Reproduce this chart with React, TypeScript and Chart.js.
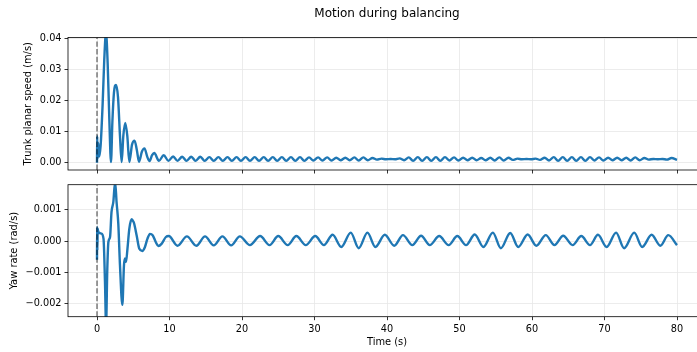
import { useEffect, useRef } from "react";
import { Chart, registerables } from "chart.js";

Chart.register(...registerables);
Chart.defaults.font.family = "'DejaVu Sans', sans-serif";

// ---------- data ----------
const X_TICKS = [0, 10, 20, 30, 40, 50, 60, 70, 80];
const X_TICK_LABELS = ["0", "10", "20", "30", "40", "50", "60", "70", "80"];
const SPEED_TICKS = [0, 0.01, 0.02, 0.03, 0.04];
const SPEED_TICK_LABELS = ["0.00", "0.01", "0.02", "0.03", "0.04"];
const YAW_TICKS = [-0.002, -0.001, 0, 0.001];
const YAW_TICK_LABELS = ["\u22120.002", "\u22120.001", "0.000", "0.001"];
const X_RANGE = [-4, 84];
const SPEED_RANGE = [-0.00235, 0.04026];
const YAW_RANGE = [-0.00243, 0.00181];
const EVENT_TIME = 0;

const TITLE = "Motion during balancing";
const SPEED_LABEL = "Trunk planar speed (m/s)";
const YAW_LABEL = "Yaw rate (rad/s)";
const X_LABEL = "Time (s)";

// [time (s), trunk planar speed (m/s)]
const speedSeries: [number, number][] = [
  [0.0, 0.0], [0.03, 0.0085], [0.08, 0.0012], [0.16, 0.0064], [0.3, 0.002], [0.5, 0.0055],
  [0.78, 0.019], [1.0, 0.033], [1.24, 0.0418], [1.47, 0.032], [1.7, 0.014], [1.93, 0.0002],
  [2.12, 0.013], [2.34, 0.0225], [2.62, 0.025], [2.9, 0.021], [3.17, 0.0086], [3.4, 0.0002],
  [3.63, 0.0086], [3.9, 0.0128], [4.18, 0.0086], [4.46, 0.0002], [4.83, 0.0058], [5.18, 0.0071],
  [5.5, 0.004], [5.8, 0.0003], [6.2, 0.0036], [6.55, 0.0046], [6.95, 0.0018], [7.25, 0.0005],
  [7.6, 0.0024], [7.9, 0.0031], [8.55, 0.0006], [9.2, 0.0024], [9.85, 0.0006], [10.5, 0.002],
  [11.1, 0.0006], [11.75, 0.0019], [12.35, 0.0006], [13.0, 0.0019], [13.6, 0.0006], [14.25, 0.0019],
  [14.85, 0.0006], [15.5, 0.0018], [16.1, 0.0006], [16.75, 0.0018], [17.35, 0.0006], [18.0, 0.0018],
  [18.6, 0.0006], [19.25, 0.0018], [19.85, 0.0006], [20.5, 0.0018], [21.1, 0.0006], [21.75, 0.0018],
  [22.35, 0.0006], [23.0, 0.0018], [23.6, 0.0006], [24.25, 0.0018], [24.85, 0.0006], [25.5, 0.0018],
  [26.1, 0.0006], [26.75, 0.0018], [27.35, 0.0006], [28.0, 0.0018], [28.6, 0.0006], [29.25, 0.0017],
  [29.85, 0.0007], [30.5, 0.0017], [31.1, 0.0007], [31.75, 0.0017], [32.35, 0.0007], [33.0, 0.0016],
  [33.6, 0.0008], [34.25, 0.0016], [34.85, 0.0008], [35.5, 0.0017], [36.1, 0.0007], [36.75, 0.0017],
  [37.35, 0.0008], [38.0, 0.0015], [38.6, 0.001], [39.25, 0.0013], [39.85, 0.0011], [40.5, 0.0012],
  [41.1, 0.0011], [41.75, 0.0014], [42.35, 0.0008], [43.0, 0.0017], [43.6, 0.0006], [44.25, 0.0018],
  [44.85, 0.0006], [45.5, 0.0018], [46.1, 0.0006], [46.75, 0.0018], [47.35, 0.0006], [48.0, 0.0018],
  [48.6, 0.0007], [49.25, 0.0017], [49.85, 0.0007], [50.5, 0.0016], [51.1, 0.0008], [51.75, 0.0016],
  [52.35, 0.0008], [53.0, 0.0015], [53.6, 0.0008], [54.25, 0.0016], [54.85, 0.0007], [55.5, 0.0017],
  [56.1, 0.0007], [56.75, 0.0016], [57.35, 0.0009], [58.0, 0.0013], [58.6, 0.0011], [59.25, 0.0012],
  [59.85, 0.0011], [60.5, 0.0013], [61.1, 0.0009], [61.75, 0.0016], [62.35, 0.0007], [63.0, 0.0018],
  [63.6, 0.0006], [64.25, 0.0018], [64.85, 0.0006], [65.5, 0.0018], [66.1, 0.0006], [66.75, 0.0018],
  [67.35, 0.0006], [68.0, 0.0018], [68.6, 0.0007], [69.25, 0.0017], [69.85, 0.0007], [70.5, 0.0016],
  [71.1, 0.0008], [71.75, 0.0016], [72.35, 0.0008], [73.0, 0.0016], [73.6, 0.0007], [74.25, 0.0017],
  [74.85, 0.0008], [75.5, 0.0015], [76.1, 0.001], [76.75, 0.0012], [77.35, 0.0011], [78.0, 0.0012],
  [78.6, 0.001], [79.25, 0.0015], [80.0, 0.0009],
];

// [time (s), yaw rate (rad/s)]
const yawSeries: [number, number][] = [
  [0.0, -0.0006], [0.02, 0.00045], [0.05, -0.0003], [0.1, 0.0004], [0.18, 0.00029], [0.6, 0.00024],
  [0.9, 0.00007], [1.1, -0.0013], [1.25, -0.0027], [1.42, -0.0009], [1.57, -0.00003], [1.8, 0.00013],
  [2.0, 0.00093], [2.25, 0.00125], [2.5, 0.0019], [2.7, 0.00125], [2.94, 0.00055], [3.17, -0.00078],
  [3.5, -0.00205], [3.72, -0.00078], [3.86, -0.00056], [4.0, -0.00067], [4.2, -0.00025], [4.46, 0.0004],
  [4.78, 0.0007], [4.95, 0.00065], [5.1, 0.00058], [5.47, 0.00018], [5.84, -0.00025], [6.25, -0.00032],
  [6.6, -0.0002], [6.95, 0.00007], [7.3, 0.00023], [7.7, 0.00018], [8.1, -0.00003], [8.46, -0.00016],
  [8.9, -0.00009], [9.5, 0.00013], [9.9, 0.00016], [11.1, -0.00015], [12.4, 0.00015], [13.7, -0.00015],
  [14.9, 0.00015], [16.1, -0.00014], [17.3, 0.00015], [18.5, -0.00014], [19.7, 0.00015], [21.1, -0.00013],
  [22.5, 0.00016], [23.8, -0.00013], [25.0, 0.00016], [26.3, -0.00013], [27.5, 0.00016], [28.8, -0.00013],
  [30.1, 0.00016], [31.3, -0.00013], [32.5, 0.0002], [33.7, -0.00019], [35.0, 0.00027], [36.1, -0.00023],
  [37.3, 0.00027], [38.4, -0.00019], [39.7, 0.0002], [41.0, -0.00015], [42.2, 0.00019], [43.5, -0.00013],
  [44.7, 0.00017], [45.9, -0.00013], [47.2, 0.00016], [48.5, -0.00013], [49.7, 0.00016], [50.9, -0.00013],
  [52.1, 0.00021], [53.3, -0.00019], [54.6, 0.00027], [55.7, -0.00023], [57.0, 0.00026], [58.1, -0.00019],
  [59.4, 0.00021], [60.6, -0.00015], [61.9, 0.00019], [63.1, -0.00013], [64.3, 0.00017], [65.6, -0.00013],
  [66.8, 0.00016], [68.0, -0.00013], [69.1, 0.0002], [70.3, -0.00019], [71.6, 0.00027], [72.7, -0.00023],
  [74.1, 0.00027], [75.2, -0.00019], [76.5, 0.0002], [77.7, -0.00015], [78.8, 0.00019], [80.0, -0.00013],
];

// ---------- styling ----------
const LINE_COLOR = "#1f77b4";
const GRID_COLOR = "#e7e7e7";
const TICK_FONT = 9.72;
const LABEL_FONT = 9.9;
const TITLE_FONT = 12;

const framePlugin = {
  id: "frame",
  afterDatasetsDraw(chart: any) {
    const { ctx, chartArea: a } = chart;
    ctx.save();
    ctx.strokeStyle = "#000";
    ctx.lineWidth = 0.8;
    ctx.strokeRect(a.left, a.top, a.right - a.left, a.bottom - a.top);
    ctx.restore();
  },
};

function xScale(showLabels: boolean, height: number) {
  return {
    type: "linear",
    min: X_RANGE[0],
    max: X_RANGE[1],
    afterBuildTicks: (s: any) => {
      s.ticks = X_TICKS.map((v) => ({ value: v }));
    },
    afterFit: (s: any) => {
      s.height = height;
    },
    grid: {
      color: GRID_COLOR,
      lineWidth: 0.8,
      tickColor: "#000",
      tickWidth: 0.8,
      tickLength: 3.5,
    },
    border: { display: false },
    ticks: {
      display: showLabels,
      padding: 3,
      color: "#000",
      maxRotation: 0,
      autoSkip: false,
      font: { size: TICK_FONT },
      callback: (_v: any, i: number) => X_TICK_LABELS[i],
    },
    title: {
      display: showLabels,
      text: X_LABEL,
      color: "#000",
      font: { size: LABEL_FONT },
      padding: { top: 0, bottom: 3.5 },
    },
  };
}

function yScale(range: number[], ticks: number[], labels: string[], label: string, width: number) {
  return {
    type: "linear",
    min: range[0],
    max: range[1],
    afterBuildTicks: (s: any) => {
      s.ticks = ticks.map((v) => ({ value: v }));
    },
    afterFit: (s: any) => {
      s.width = width;
    },
    grid: {
      color: GRID_COLOR,
      lineWidth: 0.8,
      tickColor: "#000",
      tickWidth: 0.8,
      tickLength: 3.5,
    },
    border: { display: false },
    ticks: {
      padding: 3,
      color: "#000",
      autoSkip: false,
      font: { size: TICK_FONT },
      callback: (_v: any, i: number) => labels[i],
    },
    title: {
      display: true,
      text: label,
      color: "#000",
      font: { size: LABEL_FONT },
      padding: { top: 0, bottom: 0 },
    },
  };
}

function datasets(series: [number, number][], range: number[]) {
  return [
    {
      data: [
        { x: EVENT_TIME, y: range[0] },
        { x: EVENT_TIME, y: range[1] },
      ],
      borderColor: "rgba(0,0,0,0.55)",
      borderWidth: 1.4,
      borderDash: [5.4, 2.3],
      pointRadius: 0,
      clip: 0,
    },
    {
      data: series.map(([x, y]) => ({ x, y })),
      borderColor: LINE_COLOR,
      borderWidth: 2.4,
      pointRadius: 0,
      cubicInterpolationMode: "monotone",
      clip: 0,
    },
  ];
}

export default function App() {
  const topRef = useRef<HTMLCanvasElement>(null);
  const botRef = useRef<HTMLCanvasElement>(null);

  useEffect(() => {
    const top = new Chart(topRef.current!, {
      type: "line",
      data: { datasets: datasets(speedSeries, SPEED_RANGE) as any },
      options: {
        responsive: false,
        animation: false,
        devicePixelRatio: 1,
        layout: { padding: { left: 22.2, top: 0, right: 0, bottom: 0 } },
        plugins: {
          legend: { display: false },
          tooltip: { enabled: false },
          title: {
            display: true,
            text: TITLE,
            color: "#000",
            fullSize: false,
            font: { size: TITLE_FONT, weight: "normal" },
            padding: { top: 6.3, bottom: 16.8 },
          },
        },
        scales: {
          x: xScale(false, 10) as any,
          y: yScale(SPEED_RANGE, SPEED_TICKS, SPEED_TICK_LABELS, SPEED_LABEL, 45.8) as any,
        },
      },
      plugins: [framePlugin],
    });
    const bot = new Chart(botRef.current!, {
      type: "line",
      data: { datasets: datasets(yawSeries, YAW_RANGE) as any },
      options: {
        responsive: false,
        animation: false,
        devicePixelRatio: 1,
        layout: { padding: { left: 8.2, top: 14.7, right: 0, bottom: 0 } },
        plugins: {
          legend: { display: false },
          tooltip: { enabled: false },
        },
        scales: {
          x: xScale(true, 35.3) as any,
          y: yScale(YAW_RANGE, YAW_TICKS, YAW_TICK_LABELS, YAW_LABEL, 59.8) as any,
        },
      },
      plugins: [framePlugin],
    });
    return () => {
      top.destroy();
      bot.destroy();
    };
  }, []);

  return (
    <div
      style={{
        position: "fixed",
        left: 0,
        top: 0,
        width: 697,
        height: 352,
        overflow: "hidden",
        background: "#fff",
      }}
    >
      <canvas
        ref={topRef}
        width={706}
        height={180}
        style={{ position: "absolute", left: 0, top: 0, width: 706, height: 180 }}
      />
      <canvas
        ref={botRef}
        width={706}
        height={182}
        style={{ position: "absolute", left: 0, top: 170, width: 706, height: 182 }}
      />
    </div>
  );
}
